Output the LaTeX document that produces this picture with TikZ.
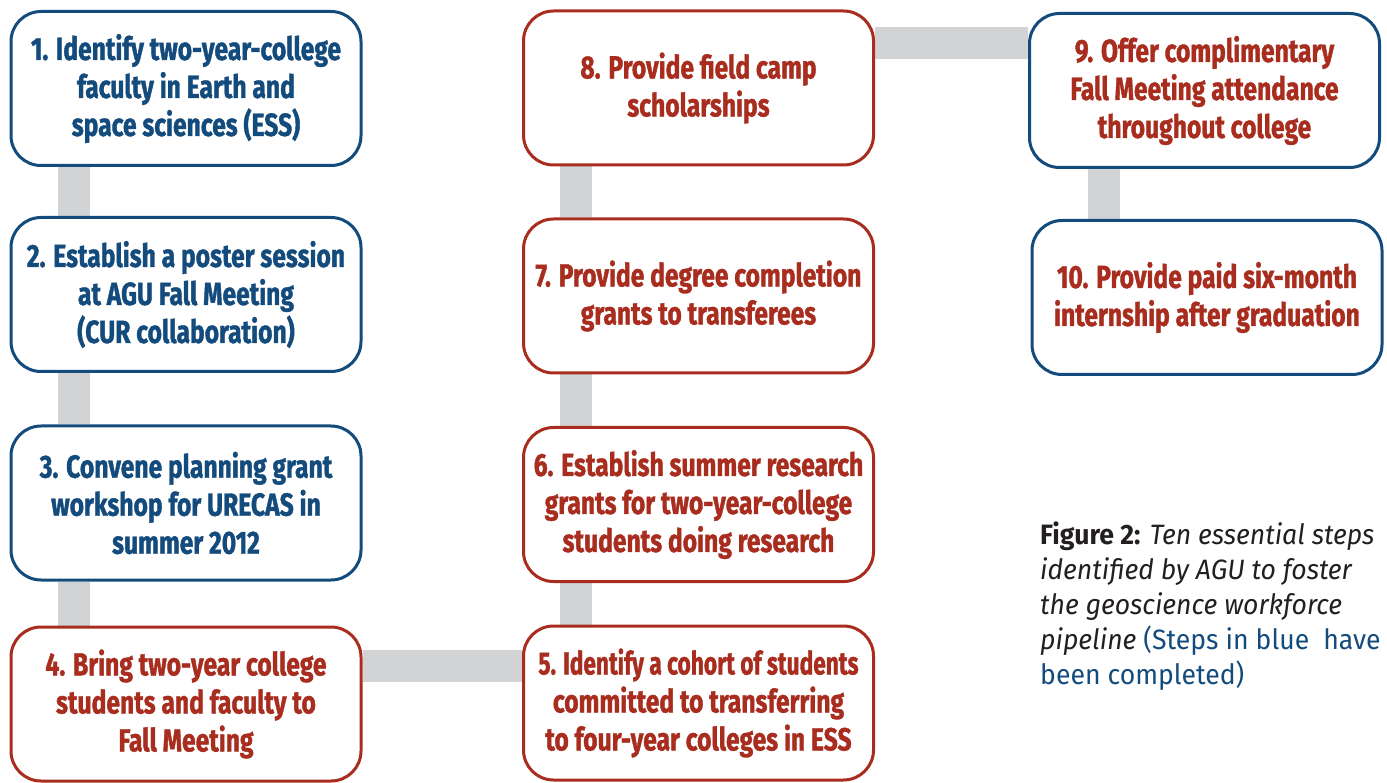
\documentclass[tikz,border=0pt]{standalone}
\usepackage{fontspec}
\usetikzlibrary{backgrounds}
\setmainfont{Fira Sans}
\newfontfamily\stepfont[FakeStretch=0.77, FakeBold=1.2]{Fira Sans}
\newfontfamily\capfont[FakeStretch=0.95]{Fira Sans}

\definecolor{agublue}{RGB}{20,75,125}
\definecolor{agured}{RGB}{168,45,30}
\definecolor{linkgray}{RGB}{209,211,212}
\definecolor{capink}{RGB}{35,31,32}

\tikzset{
  stepbox/.style={draw, rounded corners=30pt, line width=3pt, fill=white,
    minimum width=350pt, minimum height=154pt, align=center, inner sep=0pt,
    font=\stepfont\bfseries\fontsize{32}{38}\selectfont},
  donebox/.style={stepbox, draw=agublue, text=agublue},
  todobox/.style={stepbox, draw=agured, text=agured},
  mixbox/.style={stepbox, draw=agublue, text=agured},
  link/.style={draw=linkgray, line width=32pt}
}

\begin{document}
\begin{tikzpicture}[x=1pt, y=-1pt]
\useasboundingbox (0,0) rectangle (1387,783);

% first column: steps 1-4
\node[donebox] (s1) at (186,88.5) {1. Identify two-year-college\\faculty in Earth and\\space sciences (ESS)};
\node[donebox] (s2) at (186,294.5) {2. Establish a poster session\\at AGU Fall Meeting\\(CUR collaboration)};
\node[donebox] (s3) at (186,503) {3. Convene planning grant\\workshop for URECAS in\\summer 2012};
\node[todobox] (s4) at (186,704) {4. Bring two-year college\\students and faculty to\\Fall Meeting};

% second column: steps 5-8, bottom to top
\node[todobox] (s5) at (698.5,703) {\scalebox{0.92}[1]{5. Identify a cohort of students}\\committed to transferring\\to four-year colleges in ESS};
\node[todobox] (s6) at (698.5,504.5) {6. Establish summer research\\grants for two-year-college\\students doing research};
\node[todobox] (s7) at (698.5,296) {7. Provide degree completion\\grants to transferees};
\node[todobox] (s8) at (698.5,88) {8. Provide field camp\\scholarships};

% third column: steps 9-10
\node[mixbox] (s9) at (1204.5,90.5) {9. Offer complimentary\\Fall Meeting attendance\\throughout college};
\node[mixbox] (s10) at (1207,297.5) {10. Provide paid six-month\\internship after graduation};

% grey links between consecutive steps
\begin{scope}[on background layer]
  \draw[link] ([xshift=64.5pt]s1.south west) -- ([xshift=64.5pt]s2.north west);
  \draw[link] ([xshift=64.5pt]s2.south west) -- ([xshift=64.5pt]s3.north west);
  \draw[link] ([xshift=64.5pt]s3.south west) -- ([xshift=64.5pt]s4.north west);
  \draw[link] ([yshift=-40pt]s4.north east) -- ([yshift=-40pt]s4.north east -| s5.west);
  \draw[link] ([xshift=53.5pt]s5.north west) -- ([xshift=53.5pt]s6.south west);
  \draw[link] ([xshift=53.5pt]s6.north west) -- ([xshift=53.5pt]s7.south west);
  \draw[link] ([xshift=53.5pt]s7.north west) -- ([xshift=53.5pt]s8.south west);
  \draw[link] ([yshift=-34pt]s8.north east) -- ([yshift=-34pt]s8.north east -| s9.west);
  \draw[link] ([xshift=75.5pt]s9.south west) -- ([xshift=75.5pt]s9.south west |- s10.north);
\end{scope}

% caption
\node[anchor=north west, align=left, inner sep=0pt, text=capink,
  font=\capfont\fontsize{28}{35}\selectfont] (cap) at (1040,522)
  {\textbf{Figure 2:} \textit{Ten essential steps}\\
   \textit{identified by AGU to foster}\\
   \textit{the geoscience workforce}\\
   \textit{pipeline} {\color{agublue}(Steps in blue\ \ have}\\
   {\color{agublue}been completed)}};
\end{tikzpicture}
\end{document}
